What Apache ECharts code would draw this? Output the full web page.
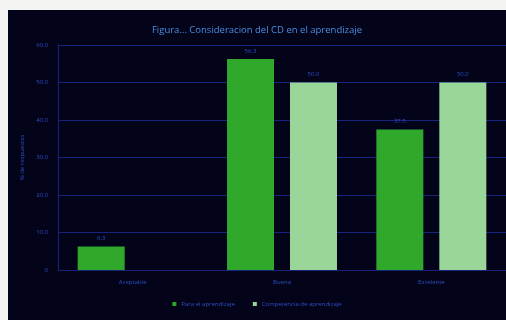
<!DOCTYPE html>
<html>
<head>
<meta charset="utf-8">
<script src="https://cdn.jsdelivr.net/npm/echarts@6/dist/echarts.min.js"></script>
<style>
  html, body { margin: 0; padding: 0; background: #f4f4f2; }
  #chart { position: absolute; left: 8px; top: 10px; width: 498px; height: 310px; }
</style>
</head>
<body>
<div id="chart"></div>
<script>
// Categories and series values (% de respuestas)
var categories = ["Aceptable", "Buena", "Excelente"];
var paraAprendizaje = [6.25, 56.25, 37.5];
var competencia = [null, 50.0, 50.0];
var yTicks = [0, 10, 20, 30, 40, 50, 60];

var textBlue = "#2f4fc4";

var myChart = echarts.init(document.getElementById("chart"));

var option = {
  backgroundColor: "#03031a",
  animation: false,
  title: {
    text: "Figura... Consideracion del CD en el aprendizaje",
    left: "center",
    top: 10,
    textStyle: {
      color: "#4a8fe0",
      fontSize: 9.5,
      fontWeight: "normal",
      fontFamily: "Open Sans"
    }
  },
  legend: {
    bottom: 8,
    left: "center",
    itemWidth: 4,
    itemHeight: 4,
    itemGap: 18,
    icon: "rect",
    textStyle: { color: textBlue, fontSize: 6, fontFamily: "Open Sans" },
    data: ["Para el aprendizaje", "Competencia de aprendizaje"]
  },
  grid: {
    left: 50,
    right: 0,
    top: 35,
    bottom: 50
  },
  xAxis: {
    type: "category",
    data: categories,
    axisLine: { lineStyle: { color: "#18247a" } },
    axisTick: { show: false },
    axisLabel: { color: textBlue, fontSize: 6, margin: 9, fontFamily: "Open Sans" }
  },
  yAxis: {
    type: "value",
    min: 0,
    max: 60,
    interval: 10,
    name: "% de respuestas",
    nameLocation: "middle",
    nameGap: 30,
    nameTextStyle: { color: textBlue, fontSize: 6, fontFamily: "Open Sans" },
    axisLine: { show: true, lineStyle: { color: "#18247a" } },
    axisTick: { show: false },
    axisLabel: {
      color: textBlue,
      fontSize: 6,
      margin: 10,
      fontFamily: "Open Sans",
      formatter: function (v) { return v === 0 ? "0" : v.toFixed(1); }
    },
    splitLine: { lineStyle: { color: "#16247e", width: 1 } }
  },
  series: [{
    name: "Para el aprendizaje",
    type: "bar",
    data: paraAprendizaje,
    barWidth: 47,
    barGap: "34%",
    itemStyle: { color: "#2fa82b" },
    label: {
      show: true,
      position: "top",
      distance: 5,
      color: textBlue,
      fontSize: 6,
      fontFamily: "Open Sans",
      formatter: function (p) { return p.value.toFixed(1); }
    }
  }, {
    name: "Competencia de aprendizaje",
    type: "bar",
    data: competencia,
    barWidth: 47,
    itemStyle: { color: "#9ad69a" },
    label: {
      show: true,
      position: "top",
      distance: 5,
      color: textBlue,
      fontSize: 6,
      fontFamily: "Open Sans",
      formatter: function (p) { return p.value == null ? "" : p.value.toFixed(1); }
    }
  }]
};

myChart.setOption(option);
</script>
</body>
</html>
